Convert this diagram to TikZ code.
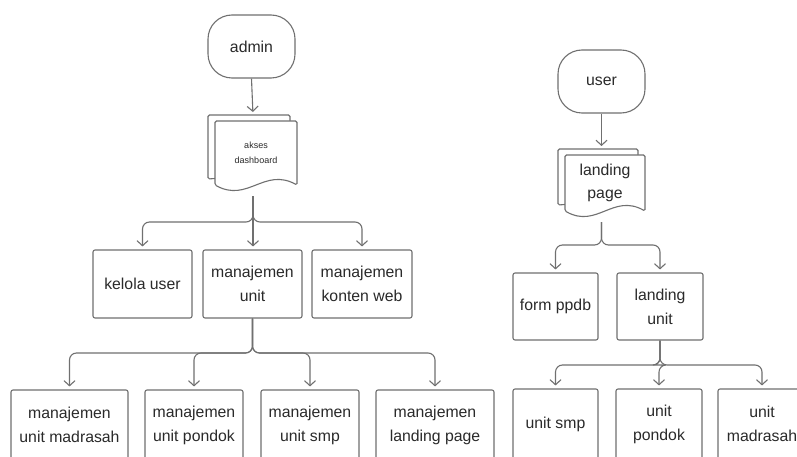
\documentclass[tikz,border=0pt]{standalone}
\usepackage{fontspec}
\setmainfont{Liberation Sans}
\usetikzlibrary{arrows.meta}
\definecolor{ln}{HTML}{707070}
\definecolor{tx}{HTML}{2A2A2A}
\tikzset{
  boxnode/.style={draw=ln, line width=1.1pt, rounded corners=2pt, fill=white, align=center,
    text=tx, font=\fontsize{15.8}{24}\selectfont, inner sep=0pt},
  termnode/.style={draw=ln, line width=1.1pt, rounded corners=24pt, fill=white, align=center,
    text=tx, font=\fontsize{15.8}{24}\selectfont, inner sep=0pt, minimum width=87pt, minimum height=63pt},
  conn/.style={draw=ln, line width=1.1pt, -{Straight Barb[length=5pt,width=11pt,line width=1.1pt]}, shorten >=3pt, rounded corners=7pt},
  sheet/.style={draw=ln, line width=1.1pt, fill=white, rounded corners=1.5pt},
}
% \mydoc{name}{left}{top}{width}{baseheight}{font}{text}
\newcommand{\mydoc}[7]{%
  \draw[sheet] (#2-7,#3-6) -- (#2-7+#4,#3-6) -- (#2-7+#4,#3+#5-12) -- (#2-7,#3+#5-6) -- cycle;
  \draw[sheet] (#2,#3) -- (#2+#4,#3) -- (#2+#4,#3+#5)
     .. controls (#2+0.6*#4,#3+#5-18) and (#2+0.4*#4,#3+#5+18) .. (#2,#3+#5) -- cycle;
  \node[align=center, text=tx, font=#6, inner sep=0pt, minimum width=#4 pt, minimum height=#5 pt] (#1) at (#2+0.5*#4,#3+0.5*#5) {#7};
}
\begin{document}
\begin{tikzpicture}[x=1pt,y=-1pt]
\useasboundingbox (0,0) rectangle (797,457);
\fill[white] (0,0) rectangle (797,457);

% ---------- admin side ----------
\node[termnode] (admin) at (251.5,46.5) {admin};
\mydoc{dash}{215}{121}{82}{64}{\fontsize{9}{15}\selectfont}{akses\\dashboard}
\coordinate (dashtop) at (253,115);
\coordinate (dashbot) at (253,196);
\draw[conn] (admin.south) -- (dashtop);

\node[boxnode, minimum width=99pt, minimum height=68pt] (kelola) at (142.5,284) {kelola user};
\node[boxnode, minimum width=99pt, minimum height=68pt] (munit) at (252.5,284) {manajemen\\unit};
\node[boxnode, minimum width=100pt, minimum height=68pt] (konten) at (362,284) {manajemen\\konten web};

\coordinate (bar1) at (253,222);
\draw[conn] (dashbot) |- (kelola.north |- bar1) -- (kelola.north);
\draw[conn] (dashbot) |- (konten.north |- bar1) -- (konten.north);
\draw[conn] (dashbot) -- (munit.north -| dashbot);

\node[boxnode, minimum width=117pt, minimum height=70pt] (mmad) at (69.5,425) {manajemen\\unit madrasah};
\node[boxnode, minimum width=98pt, minimum height=70pt] (mpon) at (194,425) {manajemen\\unit pondok};
\node[boxnode, minimum width=98pt, minimum height=70pt] (msmp) at (310,425) {manajemen\\unit smp};
\node[boxnode, minimum width=118pt, minimum height=70pt] (mland) at (435,425) {manajemen\\landing page};

\coordinate (bar2) at (252.5,353);
\draw[conn] (munit.south) |- (mmad.north |- bar2) -- (mmad.north);
\draw[conn] (munit.south) |- (mpon.north |- bar2) -- (mpon.north);
\draw[conn] (munit.south) |- (msmp.north |- bar2) -- (msmp.north);
\draw[conn] (munit.south) |- (mland.north |- bar2) -- (mland.north);

% ---------- user side ----------
\node[termnode] (user) at (601.5,81.5) {user};
\mydoc{lpage}{565}{155}{80}{56}{\fontsize{15.8}{23}\selectfont}{landing\\page}
\coordinate (lptop) at (601.5,149);
\coordinate (lpbot) at (601.5,222);
\draw[conn] (user.south) -- (lptop);

\node[boxnode, minimum width=85pt, minimum height=67pt] (ppdb) at (555.5,306.5) {form ppdb};
\node[boxnode, minimum width=86pt, minimum height=67pt] (lunit) at (660,306.5) {landing\\unit};

\coordinate (bar3) at (601.5,245);
\draw[conn] (lpbot) |- (ppdb.north |- bar3) -- (ppdb.north);
\draw[conn] (lpbot) |- (lunit.north |- bar3) -- (lunit.north);

\node[boxnode, minimum width=85pt, minimum height=70pt] (usmp) at (555.5,424) {unit smp};
\node[boxnode, minimum width=86pt, minimum height=70pt] (upon) at (659,424) {unit\\pondok};
\node[boxnode, minimum width=88pt, minimum height=70pt] (umad) at (762,424) {unit\\madrasah};

\coordinate (bar4) at (660,365);
\draw[conn] (lunit.south) |- (usmp.north |- bar4) -- (usmp.north);
\draw[conn] (lunit.south) |- (umad.north |- bar4) -- (umad.north);
\draw[conn] (lunit.south) |- (upon.north |- bar4) -- (upon.north);
\end{tikzpicture}
\end{document}
